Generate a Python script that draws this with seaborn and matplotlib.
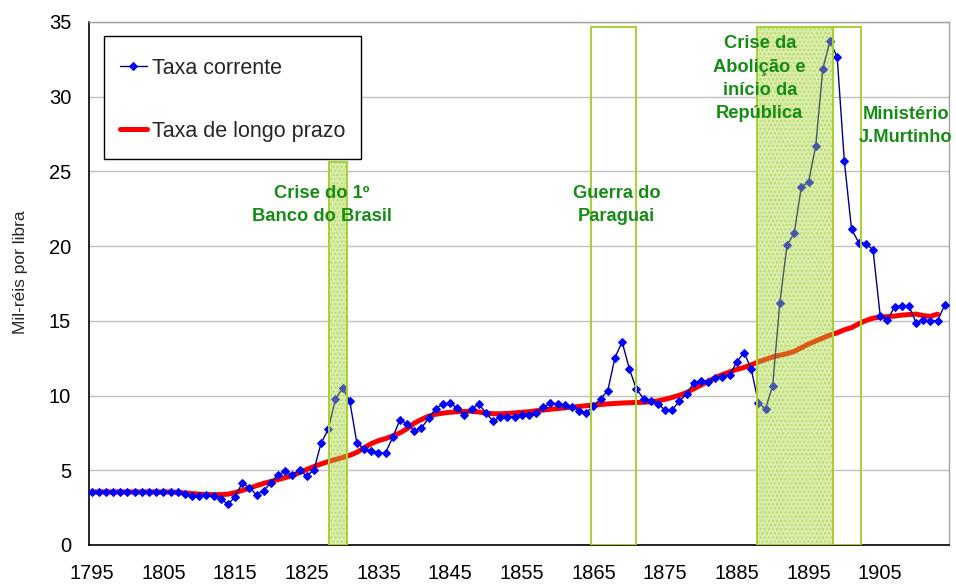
import matplotlib
matplotlib.use("Agg")
import matplotlib.pyplot as plt
from matplotlib.patches import Rectangle
import seaborn as sns
import pandas as pd

# ---------------- data ----------------
years_current = list(range(1795, 1915))
taxa_corrente = [
    3.55, 3.55, 3.55, 3.55, 3.55, 3.55, 3.55, 3.55, 3.55, 3.55,   # 1795-1804
    3.55, 3.55, 3.55, 3.41, 3.30, 3.26, 3.35, 3.26, 3.10, 2.72,   # 1805-1814
    3.21, 4.15, 3.84, 3.35, 3.64, 4.17, 4.69, 4.93, 4.71, 5.00,   # 1815-1824
    4.62, 5.02, 6.81, 7.74, 9.75, 10.49, 9.64, 6.81, 6.45, 6.31,  # 1825-1834
    6.16, 6.18, 7.21, 8.37, 8.09, 7.64, 7.84, 8.47, 9.13, 9.43,   # 1835-1844
    9.48, 9.17, 8.72, 9.07, 9.45, 8.83, 8.29, 8.55, 8.59, 8.57,   # 1845-1854
    8.72, 8.72, 8.86, 9.22, 9.50, 9.45, 9.35, 9.26, 8.99, 8.86,   # 1855-1864
    9.30, 9.79, 10.33, 12.54, 13.59, 11.80, 10.42, 9.79, 9.62, 9.46,  # 1865-1874
    9.01, 9.06, 9.64, 10.11, 10.86, 11.00, 10.89, 11.16, 11.24, 11.38,  # 1875-1884
    12.25, 12.88, 11.80, 9.53, 9.10, 10.66, 16.22, 20.06, 20.86, 23.96,  # 1885-1894
    24.28, 26.68, 31.88, 33.73, 32.64, 25.67, 21.13, 20.24, 20.17, 19.75,  # 1895-1904
    15.33, 15.06, 15.93, 16.02, 16.00, 14.88, 15.04, 15.01, 15.01, 16.06,  # 1905-1914
]

years_long = list(range(1795, 1914))
taxa_longo_prazo = [
    3.55, 3.55, 3.55, 3.55, 3.55, 3.55, 3.55, 3.55, 3.55, 3.55,   # 1795-1804
    3.55, 3.55, 3.52, 3.48, 3.44, 3.40, 3.38, 3.37, 3.37, 3.40,   # 1805-1814
    3.50, 3.65, 3.80, 3.97, 4.12, 4.25, 4.38, 4.50, 4.65, 4.85,   # 1815-1824
    5.05, 5.25, 5.42, 5.58, 5.72, 5.85, 6.00, 6.20, 6.50, 6.78,   # 1825-1834
    6.98, 7.12, 7.30, 7.50, 7.78, 8.15, 8.40, 8.62, 8.75, 8.82,   # 1835-1844
    8.88, 8.92, 8.94, 8.95, 8.90, 8.82, 8.78, 8.78, 8.80, 8.84,   # 1845-1854
    8.88, 8.92, 8.98, 9.03, 9.08, 9.13, 9.18, 9.22, 9.27, 9.32,   # 1855-1864
    9.36, 9.40, 9.44, 9.47, 9.50, 9.52, 9.54, 9.55, 9.58, 9.65,   # 1865-1874
    9.75, 9.88, 10.02, 10.20, 10.45, 10.70, 10.95, 11.20, 11.40, 11.58,  # 1875-1884
    11.75, 11.88, 12.05, 12.25, 12.42, 12.58, 12.70, 12.80, 12.95, 13.20,  # 1885-1894
    13.45, 13.65, 13.85, 14.05, 14.20, 14.40, 14.55, 14.80, 15.02, 15.18,  # 1895-1904
    15.25, 15.28, 15.32, 15.38, 15.42, 15.45, 15.35, 15.30, 15.45,        # 1905-1913
]

# highlighted periods
period_labels = ["Crise do 1º\nBanco do Brasil", "Guerra do\nParaguai",
                 "Crise da\nAbolição e\ninício da\nRepública", "Ministério\nJ.Murtinho"]
period_start = [1828.15, 1864.62, 1887.79, 1898.48]
period_end = [1830.58, 1870.95, 1898.48, 1902.30]
period_top = [25.6, 34.65, 34.65, 34.65]
period_filled = [True, False, True, False]
label_x = [1827.1, 1868.2, 1888.2, 1908.6]
label_y = [22.77, 22.75, 31.2, 28.05]

# ---------------- plot ----------------
sns.set_style("white")
plt.rcParams['font.family'] = ['Liberation Sans', 'DejaVu Sans']

fig = plt.figure(figsize=(9.56, 5.86), dpi=100)
ax = fig.add_axes([0.0934, 0.070, 0.8993, 0.8925])

df_long = pd.DataFrame({"ano": years_long, "valor": taxa_longo_prazo})
df_cur = pd.DataFrame({"ano": years_current, "valor": taxa_corrente})

# hatch texture under the lines, translucent fill above them
for s, e, t, f in zip(period_start, period_end, period_top, period_filled):
    if f:
        ax.add_patch(Rectangle((s, 0), e - s, t, facecolor="white", hatch="....",
                               edgecolor="#c4e28a", linewidth=0, zorder=2))
        ax.add_patch(Rectangle((s, 0), e - s, t, facecolor="#a9d43a", alpha=0.42,
                               edgecolor="none", zorder=5))
    ax.add_patch(Rectangle((s, 0), e - s, t, facecolor="none",
                           edgecolor="#a6d22e", linewidth=1.4, zorder=6))

sns.lineplot(data=df_long, x="ano", y="valor", ax=ax, color="#ff0000",
             linewidth=3.6, label="Taxa de longo prazo", zorder=3)
sns.lineplot(data=df_cur, x="ano", y="valor", ax=ax, color="#000080",
             linewidth=1.0, marker="D", markersize=4.3, markerfacecolor="#0000ff",
             markeredgecolor="#0000ff", label="Taxa corrente", zorder=4)

for lab, lx, ly in zip(period_labels, label_x, label_y):
    ax.text(lx, ly, lab, color="#168c16", fontsize=13.2, fontweight="bold",
            ha="center", va="center", linespacing=1.48, zorder=7)

ax.set_xlim(1794.67, 1914.6)
ax.set_ylim(0, 35)
ax.set_yticks(range(0, 36, 5))
tick_years = list(range(1795, 1915, 5))
ax.set_xticks(tick_years)
ax.set_xticklabels([str(y) if (y - 1795) % 10 == 0 else "" for y in tick_years])
ax.tick_params(axis="both", direction="out", length=7, width=1, colors="black",
               labelsize=14.5)
ax.tick_params(axis="x", pad=7)
ax.tick_params(axis="y", pad=6)
ax.yaxis.grid(True, color="#c0c0c0", linewidth=1)
ax.xaxis.grid(False)
ax.set_axisbelow(True)
for side in ["left", "bottom"]:
    ax.spines[side].set_color("black")
    ax.spines[side].set_linewidth(1.2)
for side in ["top", "right"]:
    ax.spines[side].set_color("#a0a0a0")
    ax.spines[side].set_linewidth(1.0)
ax.set_xlabel("")
ax.set_ylabel("Mil-réis por libra", fontsize=12.5)
ax.yaxis.set_label_coords(-0.0713, 0.522)

# legend: manual frame + frameless legend inside it
ax.add_patch(Rectangle((0.01745, 0.7380), 0.3160 - 0.01745, 0.9732 - 0.7380,
                       transform=ax.transAxes, facecolor="white", edgecolor="black",
                       linewidth=1.0, zorder=9))
handles, labels = ax.get_legend_handles_labels()
order = [labels.index("Taxa corrente"), labels.index("Taxa de longo prazo")]
leg = ax.legend([handles[i] for i in order], [labels[i] for i in order],
                loc="upper left", bbox_to_anchor=(0.0357, 0.932), fontsize=15.5,
                frameon=False, labelspacing=1.95, handlelength=1.25,
                handletextpad=0.25, borderpad=0, borderaxespad=0)
leg.set_zorder(10)

fig.savefig("out.png", dpi=100)
